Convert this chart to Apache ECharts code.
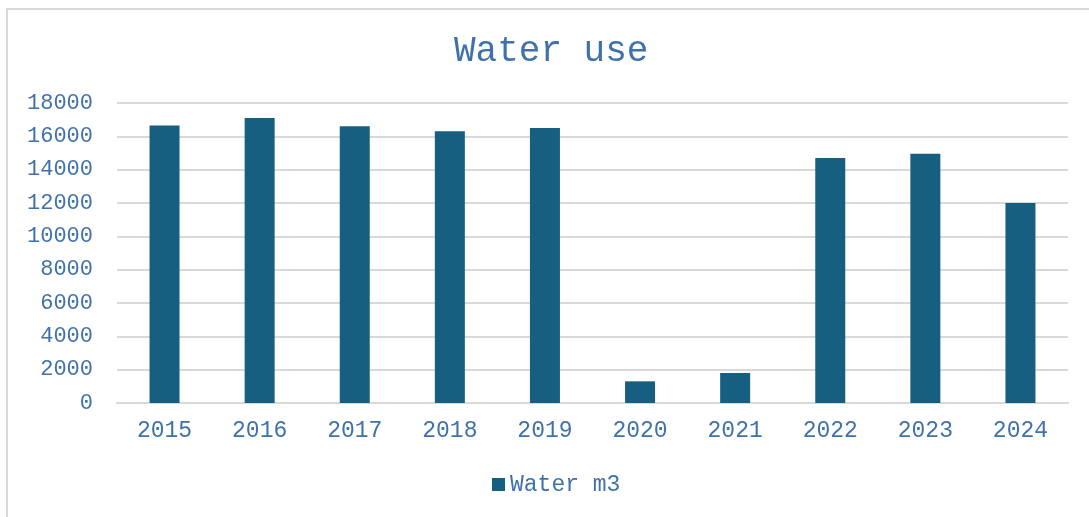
<!DOCTYPE html>
<html>
<head>
<meta charset="utf-8">
<script src="https://cdn.jsdelivr.net/npm/echarts@6/dist/echarts.min.js"></script>
<style>
  html, body { margin: 0; padding: 0; background: #fff; }
  #frame { position: absolute; left: 6px; top: 8px; width: 1090px; height: 520px;
           border-left: 2px solid #d9d9d9; border-top: 2px solid #d9d9d9; }
  #main { position: absolute; left: 0; top: 0; width: 1089px; height: 517px; }
</style>
</head>
<body>
<div id="frame"></div>
<div id="main"></div>
<script>
const years = ['2015', '2016', '2017', '2018', '2019', '2020', '2021', '2022', '2023', '2024']
const waterM3 = [16650, 17100, 16600, 16300, 16500, 1300, 1800, 14700, 14950, 12000]

const font = '"Liberation Mono", "Courier New", monospace'
const textColor = '#3f72aa'
const barColor = '#175f81'

const myChart = echarts.init(document.getElementById('main'))

myChart.setOption({
  animation: false,
  title: {
    text: 'Water use',
    left: 449,
    top: 28,
    textStyle: { fontFamily: font, fontSize: 36, fontWeight: 'normal', color: textColor }
  },
  legend: {
    data: ['Water m3'],
    left: 487,
    top: 468,
    itemWidth: 13,
    itemHeight: 13,
    itemGap: 5,
    icon: 'rect',
    textStyle: { fontFamily: font, fontSize: 23, color: textColor }
  },
  grid: { left: 117, right: 21, top: 103, bottom: 114 },
  xAxis: {
    type: 'category',
    data: years,
    axisLine: { lineStyle: { color: '#d9d9d9', width: 2 } },
    axisTick: { show: false },
    axisLabel: { fontFamily: font, fontSize: 23, color: textColor, margin: 16 }
  },
  yAxis: {
    type: 'value',
    min: 0,
    max: 18000,
    interval: 2000,
    axisLine: { show: false },
    axisTick: { show: false },
    splitLine: { lineStyle: { color: '#d9d9d9', width: 2 } },
    axisLabel: {
      fontFamily: font, fontSize: 22, color: textColor, margin: 24,
      formatter: v => String(v)
    }
  },
  series: [{
    name: 'Water m3',
    type: 'bar',
    data: waterM3,
    barWidth: 30,
    itemStyle: { color: barColor }
  }]
})
</script>
</body>
</html>
